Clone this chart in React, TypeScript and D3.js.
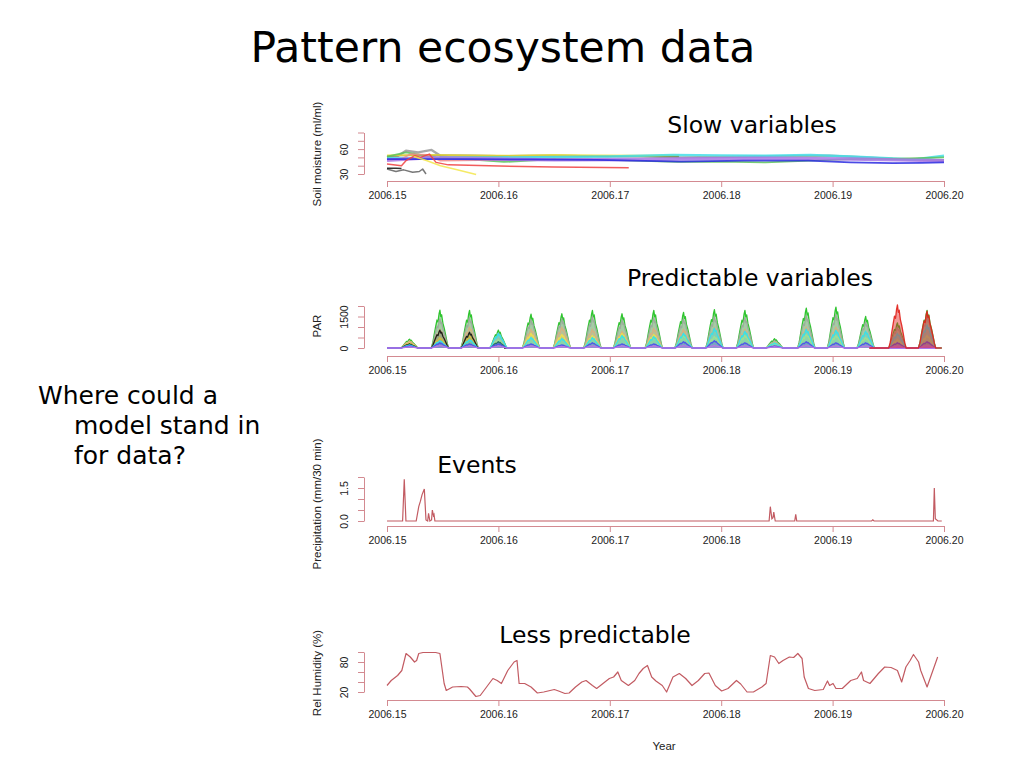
import { useEffect, useRef } from "react";
import * as d3 from "d3";

type Pt = [number, number];

const SLIDE_FONT = "'DejaVu Sans', sans-serif";
const PLOT_FONT = "'Liberation Sans', Arial, sans-serif";
const AXIS = "#d38a91";
const TRACE = "#c25b62";

const yearTicks = [2006.15, 2006.16, 2006.17, 2006.18, 2006.19, 2006.2];

// ---- soil moisture (ml/ml), one array per probe: [year, value]
const soilGray: Pt[] = [[2006.15, 50], [2006.1510, 52], [2006.1517, 58], [2006.1528, 56], [2006.1540, 59], [2006.1548, 52], [2006.1600, 51.5], [2006.1650, 51], [2006.1720, 51.5], [2006.1764, 50], [2006.1830, 51], [2006.1897, 52], [2006.1930, 50], [2006.1954, 48], [2006.2, 46.5]];
const soilOlive: Pt[] = [[2006.15, 52], [2006.1536, 53], [2006.1600, 52], [2006.1650, 52.5], [2006.1700, 51.5], [2006.1762, 51]];
const soilYellowTop: Pt[] = [[2006.15, 52.5], [2006.1536, 53], [2006.1580, 52.5], [2006.1612, 52], [2006.1650, 53], [2006.1688, 52.5], [2006.1730, 52], [2006.1762, 52.5]];
const soilCyan: Pt[] = [[2006.15, 49], [2006.1600, 50], [2006.1700, 51], [2006.1757, 53], [2006.1800, 52.5], [2006.1840, 52], [2006.1880, 53], [2006.1916, 51], [2006.1950, 49], [2006.1973, 47.5], [2006.2, 52]];
const soilGreen: Pt[] = [[2006.15, 51], [2006.1517, 56], [2006.1530, 53], [2006.1544, 50], [2006.1580, 47], [2006.1605, 44.5], [2006.1650, 48], [2006.1700, 47], [2006.1760, 44.5], [2006.1800, 45], [2006.1840, 44], [2006.1880, 46], [2006.1916, 48], [2006.1960, 48.5], [2006.2, 50]];
const soilSalmon: Pt[] = [[2006.15, 47], [2006.1513, 48], [2006.1521, 54], [2006.1536, 53], [2006.1548, 46], [2006.1600, 47], [2006.1700, 47.5]];
const soilPurple: Pt[] = [[2006.15, 46.5], [2006.1536, 49.5], [2006.1600, 48], [2006.1650, 47], [2006.1720, 47.5], [2006.1764, 48], [2006.1840, 49], [2006.1880, 48.5], [2006.1916, 48], [2006.1960, 47], [2006.2, 46]];
const soilBlue: Pt[] = [[2006.15, 48], [2006.1574, 48], [2006.1630, 47.5], [2006.1688, 47], [2006.1764, 45], [2006.1820, 46], [2006.1878, 46], [2006.1916, 44], [2006.1954, 43], [2006.1980, 43.5], [2006.2, 44]];
const soilRed: Pt[] = [[2006.15, 42], [2006.1513, 40], [2006.1517, 46], [2006.1525, 52], [2006.1530, 50], [2006.1538, 54], [2006.1544, 44], [2006.1555, 41], [2006.1601, 39.5], [2006.1650, 38.5], [2006.1717, 37.5]];
const soilYellowDrop: Pt[] = [[2006.1524, 51], [2006.1536, 46], [2006.1548, 40], [2006.1563, 35], [2006.1580, 29.5]];
const soilDarkGray: Pt[] = [[2006.15, 36], [2006.1508, 33], [2006.1515, 35], [2006.1523, 32], [2006.1529, 33], [2006.1532, 36], [2006.1535, 30]];
const soilBlack: Pt[] = [[2006.15, 37], [2006.1508, 37], [2006.1513, 36.5]];
const soilTicks = [30, 40, 50, 60, 70, 80];
const soilLabels = [30, 60];

// ---- PAR: noon of each day and each sensor's daily peak
const parDays = [2006.15202, 2006.15475, 2006.15741, 2006.16, 2006.16293, 2006.1657, 2006.16844, 2006.1711, 2006.17395, 2006.17662, 2006.17939, 2006.18213, 2006.18479, 2006.18764, 2006.1903, 2006.19297, 2006.19582, 2006.19848];
const parGreen = [420, 1800, 1790, 850, 1610, 1630, 1790, 1630, 1790, 1700, 1830, 1790, 440, 1900, 1950, 1500, 1200, 1790];
const parGray = [320, 1400, 1450, 720, 1350, 1400, 1500, 1350, 1450, 1400, 1500, 1450, 360, 1550, 1600, 1250, 1000, 1500];
const parTan = [350, 900, 1000, 500, 900, 1000, 900, 800, 950, 900, 1000, 900, 300, 1000, 1000, 800, 700, 900];
const parYellow = [250, 500, 600, 400, 700, 650, 600, 700, 650, 600, 550, 600, 250, 650, 600, 500, 400, 600];
const parBlack = [200, 850, 750, 300];
const parCyan = [150, 350, 400, 700, 500, 450, 500, 600, 550, 700, 950, 800, 250, 900, 850, 800, 700, 1100];
const parBlue = [100, 250, 200, 200, 200, 150, 250, 200, 200, 300, 350, 250, 100, 300, 250, 250, 250, 300];
const parMagenta = [60, 120, 100, 100, 100, 80, 100, 100, 100, 120, 120, 100, 60, 120, 100, 100, 100, 120];
const parRed = [2050, 1750];
// shape of one daily PAR curve: offset from noon (fraction of half day-length) and share of the peak
const parShapeOffsets = [-1, -0.82, -0.64, -0.48, -0.34, -0.22, -0.1, 0, 0.1, 0.2, 0.34, 0.5, 0.68, 0.85, 1];
const parShapeLevels = [0, 0.14, 0.38, 0.58, 0.74, 0.69, 0.9, 1, 0.83, 0.88, 0.66, 0.52, 0.32, 0.12, 0];
const parTicks = [0, 500, 1000, 1500, 2000];
const parLabels = [0, 1500];

// ---- precipitation (mm/30 min)
const precipYears = [2006.15, 2006.1514, 2006.15155, 2006.1517, 2006.15262, 2006.15285, 2006.153, 2006.15315, 2006.15335, 2006.1535, 2006.15365, 2006.15373, 2006.15385, 2006.154, 2006.15407, 2006.15417, 2006.15422, 2006.1543, 2006.1843, 2006.18441, 2006.18455, 2006.18465, 2006.18472, 2006.18485, 2006.1866, 2006.18669, 2006.18678, 2006.1935, 2006.19361, 2006.19372, 2006.19905, 2006.19913, 2006.19922, 2006.19935, 2006.19945, 2006.1998];
const precipValues = [0, 0, 1.9, 0, 0, 0.65, 0.9, 1.2, 1.45, 0.05, 0, 0.35, 0, 0.05, 0.5, 0.25, 0.3, 0, 0, 0.65, 0.1, 0.15, 0.4, 0, 0, 0.3, 0, 0, 0.05, 0, 0, 1.5, 0.1, 0.05, 0, 0];
const precipTicks = [0, 0.5, 1, 1.5, 2];
const precipLabels = [0, 1.5];

// ---- relative humidity (%)
const humidityYears = [2006.15, 2006.15038, 2006.15095, 2006.15133, 2006.15171, 2006.15209, 2006.15247, 2006.15266, 2006.15285, 2006.15323, 2006.15437, 2006.15475, 2006.15513, 2006.15532, 2006.15589, 2006.15665, 2006.15722, 2006.15741, 2006.15798, 2006.15837, 2006.15894, 2006.15951, 2006.15989, 2006.16027, 2006.16084, 2006.16141, 2006.16167, 2006.16186, 2006.16236, 2006.16293, 2006.1635, 2006.16407, 2006.16464, 2006.16502, 2006.1654, 2006.16597, 2006.16635, 2006.16692, 2006.16749, 2006.16787, 2006.16844, 2006.16882, 2006.16939, 2006.16996, 2006.17034, 2006.17072, 2006.17103, 2006.17167, 2006.17224, 2006.17262, 2006.173, 2006.17338, 2006.17376, 2006.17414, 2006.17471, 2006.1751, 2006.17567, 2006.17624, 2006.17681, 2006.17738, 2006.17795, 2006.17852, 2006.1789, 2006.17947, 2006.18004, 2006.18061, 2006.18137, 2006.18175, 2006.18232, 2006.18289, 2006.18365, 2006.18403, 2006.18441, 2006.18479, 2006.18517, 2006.18555, 2006.18612, 2006.1865, 2006.18688, 2006.18726, 2006.18745, 2006.18783, 2006.1884, 2006.18916, 2006.18954, 2006.18973, 2006.19004, 2006.1903, 2006.19087, 2006.19163, 2006.19221, 2006.19259, 2006.19278, 2006.19335, 2006.19411, 2006.19468, 2006.19525, 2006.19582, 2006.1962, 2006.19658, 2006.19696, 2006.19726, 2006.19772, 2006.19791, 2006.19848, 2006.19943];
const humidityValues = [33, 43, 53, 63, 97, 90, 80, 83, 97, 99, 99, 97, 37, 23, 30, 31, 30, 26, 11, 13, 30, 47, 43, 37, 63, 80, 83, 37, 37, 30, 18, 20, 23, 25, 22, 17, 18, 30, 40, 43, 33, 27, 37, 47, 50, 60, 43, 33, 43, 57, 67, 73, 50, 42, 33, 20, 50, 57, 47, 33, 43, 57, 58, 33, 22, 27, 43, 36, 20, 20, 30, 37, 93, 90, 77, 83, 90, 89, 97, 87, 50, 27, 23, 25, 42, 33, 37, 27, 27, 43, 47, 60, 43, 37, 57, 70, 69, 63, 40, 70, 83, 95, 80, 63, 30, 90];
const humidityTicks = [20, 40, 60, 80, 100];
const humidityLabels = [20, 80];

export default function App() {
  const svgRef = useRef<SVGSVGElement>(null);

  useEffect(() => {
    if (!svgRef.current) return;
    const svg = d3.select(svgRef.current);
    svg.selectAll("*").remove();

    const x = d3.scaleLinear().domain([2006.15, 2006.2]).range([387, 944]);

    // slide text
    const slide = (t: string, px: number, py: number, size: number, anchor = "start") =>
      svg.append("text").attr("x", px).attr("y", py).attr("font-family", SLIDE_FONT)
        .attr("font-size", size).attr("text-anchor", anchor).attr("fill", "#000").text(t);
    slide("Pattern ecosystem data", 503, 62, 42.5, "middle");
    slide("Slow variables", 752, 133, 23.5, "middle");
    slide("Predictable variables", 750, 286, 23.5, "middle");
    slide("Events", 477, 473, 23.5, "middle");
    slide("Less predictable", 595, 643, 23.5, "middle");
    slide("Where could a", 38, 404, 25);
    slide("model stand in", 74, 434, 25);
    slide("for data?", 74, 464, 25);

    const axes = (
      y: d3.ScaleLinear<number, number>,
      ticks: number[],
      labels: number[],
      fmt: (n: number) => string,
      axisY: number,
      title: string,
      titleY: number
    ) => {
      const xa = svg.append("g").attr("transform", `translate(0,${axisY})`)
        .call(d3.axisBottom(x).tickValues(yearTicks).tickFormat((d) => d3.format(".2f")(+d))
          .tickSize(6).tickSizeOuter(0).tickPadding(5));
      xa.attr("font-family", PLOT_FONT).attr("font-size", 10.5);
      xa.select(".domain").attr("stroke", AXIS);
      xa.selectAll(".tick line").attr("stroke", AXIS);
      xa.selectAll("text").attr("fill", "#222");

      const ya = svg.append("g").attr("transform", "translate(364,0)")
        .call(d3.axisLeft(y).tickValues(ticks).tickSize(6).tickSizeOuter(0)
          .tickFormat((d) => (labels.includes(+d) ? fmt(+d) : "")));
      ya.attr("font-family", PLOT_FONT).attr("font-size", 10.5);
      ya.select(".domain").attr("stroke", AXIS);
      ya.selectAll(".tick line").attr("stroke", AXIS);
      ya.selectAll("text").attr("fill", "#222").attr("x", null).attr("dy", null)
        .attr("text-anchor", "middle").attr("transform", "translate(-16,0) rotate(-90)");

      svg.append("text").attr("transform", `translate(321,${titleY}) rotate(-90)`)
        .attr("text-anchor", "middle").attr("font-family", PLOT_FONT).attr("font-size", 11.5)
        .attr("fill", "#222").text(title);
    };

    // ---- panel 1: soil moisture
    const ySoil = d3.scaleLinear().domain([30, 80]).range([174, 132.5]);
    axes(ySoil, soilTicks, soilLabels, d3.format("d"), 181, "Soil moisture (ml/ml)", 154);
    const soilLine = d3.line<Pt>().x((d) => x(d[0])).y((d) => ySoil(d[1]));
    const soilSeries: [Pt[], string, number][] = [
      [soilGray, "#9a9a9a", 2.4],
      [soilOlive, "#5e5a2a", 1.5],
      [soilYellowTop, "#f0e040", 1.8],
      [soilCyan, "#45dfe8", 2.4],
      [soilGreen, "#5cc35c", 1.8],
      [soilSalmon, "#f08a8a", 1.6],
      [soilPurple, "#a877e6", 3.4],
      [soilBlue, "#2a2ae0", 1.8],
      [soilRed, "#f04040", 1.5],
      [soilYellowDrop, "#f3e64a", 1.5],
      [soilDarkGray, "#606060", 1.5],
      [soilBlack, "#111", 1.5],
    ];
    soilSeries.forEach(([pts, c, w]) => {
      svg.append("path").attr("d", soilLine(pts)).attr("fill", "none").attr("stroke", c)
        .attr("stroke-width", w).attr("stroke-opacity", 0.85).attr("stroke-linejoin", "round");
    });

    // ---- panel 2: PAR
    const yPar = d3.scaleLinear().domain([0, 2000]).range([348, 306]);
    axes(yPar, parTicks, parLabels, d3.format("d"), 356, "PAR", 326);
    const halfDay = 0.00078;
    const parPoints = (peaks: number[], firstDay: number, t0: number, t1: number): Pt[] => {
      const pts: Pt[] = [[t0, 0]];
      peaks.forEach((p, i) => {
        const noon = parDays[firstDay + i];
        parShapeOffsets.forEach((o, k) => pts.push([noon + o * halfDay, p * parShapeLevels[k]]));
      });
      pts.push([t1, 0]);
      return pts;
    };
    const parArea = d3.area<Pt>().x((d) => x(d[0])).y0(yPar(0)).y1((d) => yPar(d[1]));
    const parLine = d3.line<Pt>().x((d) => x(d[0])).y((d) => yPar(d[1]));
    const parSeries: [Pt[], string, number][] = [
      [parPoints(parGreen, 0, 2006.15, 2006.1998), "#1dbf1d", 0.35],
      [parPoints(parGray, 0, 2006.15, 2006.1998), "#9aa89a", 0.45],
      [parPoints(parTan, 0, 2006.15, 2006.1998), "#d8b080", 0.35],
      [parPoints(parYellow, 0, 2006.15, 2006.1998), "#efe04a", 0.35],
      [parPoints(parBlack, 0, 2006.15, 2006.1605), "#111", 0.15],
      [parPoints(parCyan, 0, 2006.15, 2006.1998), "#2ee4f0", 0.4],
      [parPoints(parBlue, 0, 2006.15, 2006.1933), "#4a4af0", 0.3],
      [parPoints(parMagenta, 0, 2006.15, 2006.1933), "#c070e8", 0.3],
      [parPoints(parRed, 16, 2006.1933, 2006.1998), "#e0201a", 0.45],
    ];
    parSeries.forEach(([pts, c, fo]) => {
      svg.append("path").attr("d", parArea(pts)).attr("fill", c).attr("fill-opacity", fo);
      svg.append("path").attr("d", parLine(pts)).attr("fill", "none").attr("stroke", c)
        .attr("stroke-width", 1.3).attr("stroke-opacity", 0.9).attr("stroke-linejoin", "round");
    });

    // ---- panel 3: precipitation
    const yPrecip = d3.scaleLinear().domain([0, 2]).range([521, 477]);
    axes(yPrecip, precipTicks, precipLabels, d3.format(".1f"), 526, "Precipitation (mm/30 min)", 504);
    const precipLine = d3.line<number>().x((_, i) => x(precipYears[i])).y((d) => yPrecip(d));
    svg.append("path").attr("d", precipLine(precipValues)).attr("fill", "none")
      .attr("stroke", TRACE).attr("stroke-width", 1.2);

    // ---- panel 4: humidity
    const yHum = d3.scaleLinear().domain([20, 100]).range([692, 652]);
    axes(yHum, humidityTicks, humidityLabels, d3.format("d"), 700, "Rel Humidity (%)", 673);
    const humLine = d3.line<number>().x((_, i) => x(humidityYears[i])).y((d) => yHum(d));
    svg.append("path").attr("d", humLine(humidityValues)).attr("fill", "none")
      .attr("stroke", TRACE).attr("stroke-width", 1.2).attr("stroke-linejoin", "round");

    svg.append("text").attr("x", 664).attr("y", 750).attr("text-anchor", "middle")
      .attr("font-family", PLOT_FONT).attr("font-size", 11.5).attr("fill", "#222").text("Year");
  }, []);

  return (
    <svg
      ref={svgRef}
      width={1024}
      height={768}
      style={{ position: "absolute", left: 0, top: 0, background: "#fff" }}
    />
  );
}
